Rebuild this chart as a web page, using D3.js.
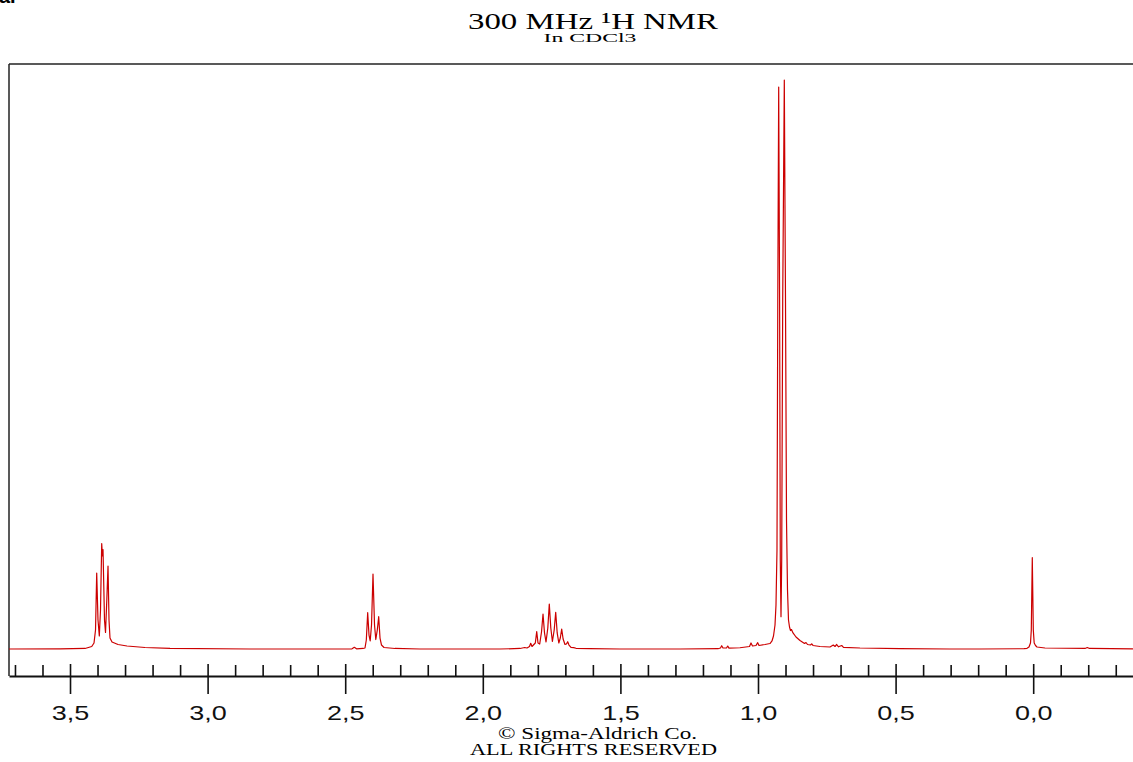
<!DOCTYPE html>
<html>
<head>
<meta charset="utf-8">
<script src="https://cdn.jsdelivr.net/npm/d3@7"></script>
<style>
  html, body { margin: 0; padding: 0; background: #fff; }
  svg { display: block; }
</style>
</head>
<body>
<svg id="chart" width="1133" height="762"></svg>
<script>
// Chemical shift (ppm) of each trace vertex, read left to right
const shiftPpm = [
  3.7217, 3.5363, 3.4455, 3.4211, 3.4128, 3.4073, 3.4030, 3.3983, 3.3935, 3.3892,
  3.3848, 3.3823, 3.3801, 3.3747, 3.3710, 3.3663, 3.3619, 3.3583, 3.3547, 3.3474,
  3.3256, 3.2929, 3.2275, 3.1366, 2.8459,
  2.5189, 2.4753, 2.4669, 2.4589, 2.4353, 2.4281, 2.4233, 2.4183, 2.4135, 2.4092,
  2.4044, 2.3990, 2.3935, 2.3888, 2.3834, 2.3783, 2.3735, 2.3681, 2.3590, 2.3191, 2.2282,
  1.9375, 1.8648, 1.8477, 1.8394, 1.8303, 1.8259, 1.8212, 1.8092, 1.8041, 1.7994,
  1.7932, 1.7867, 1.7812, 1.7758, 1.7703, 1.7638, 1.7584, 1.7529, 1.7471, 1.7406,
  1.7351, 1.7297, 1.7238, 1.7184, 1.7133, 1.7082, 1.7013, 1.6962, 1.6915, 1.6868,
  1.6795, 1.6697, 1.6613, 1.6105, 1.5015,
  1.2834, 1.1453, 1.1363, 1.1319, 1.1272, 1.1145, 1.1101, 1.1054, 1.0654, 1.0309,
  1.0254, 1.0200, 1.0073, 1.0011, 0.9964, 0.9746, 0.9564, 0.9491, 0.9437, 0.9382,
  0.9346, 0.9310, 0.9281, 0.9248, 0.9215, 0.9190, 0.9164, 0.9139, 0.9102, 0.9044,
  0.9001, 0.8964, 0.8928, 0.8892, 0.8855, 0.8819, 0.8783, 0.8728, 0.8619, 0.8474,
  0.8310, 0.8256, 0.8201, 0.8092, 0.8049, 0.8001, 0.7747, 0.7384, 0.7264, 0.7202,
  0.7140, 0.7075, 0.6959, 0.6893, 0.6294, 0.4840, 0.3023,
  0.1933, 0.0334, 0.0225, 0.0153, 0.0098, 0.0069, 0.0033, -0.0004, -0.0036, -0.0084,
  -0.0138, -0.0429, -0.1882, -0.1966, -0.2046, -0.3626
];

// Signal intensity at each vertex (arbitrary units, 100 = top of frame)
const intensity = [
  0.00, 0.03, 0.09, 0.43, 1.03, 3.25, 12.99, 4.96, 2.22, 6.67,
  18.03, 15.90, 17.01, 4.96, 2.82, 8.38, 14.19, 4.96, 1.88, 1.20,
  0.77, 0.51, 0.26, 0.09, 0.00,
  0.00, 0.03, 0.29, 0.03, 0.09, 0.17, 1.54, 6.21, 2.39, 1.37,
  4.10, 12.82, 4.10, 1.62, 3.25, 5.52, 1.88, 0.68, 0.26, 0.09, 0.00,
  0.00, 0.09, 0.26, 0.17, 0.43, 0.97, 0.43, 1.03, 2.96, 1.03,
  0.85, 2.91, 5.98, 2.74, 1.20, 3.59, 7.69, 3.59, 1.28, 3.25,
  6.27, 2.74, 1.03, 1.88, 3.42, 1.71, 0.77, 0.85, 1.25, 0.68,
  0.26, 0.24, 0.12, 0.05, 0.00,
  0.00, 0.05, 0.17, 0.56, 0.17, 0.17, 0.51, 0.14, 0.21, 0.43,
  1.03, 0.51, 0.60, 1.08, 0.60, 0.77, 0.94, 1.37, 2.22, 4.10,
  7.52, 16.92, 59.66, 96.07, 59.66, 15.21, 5.52, 15.21, 59.66, 97.26,
  59.66, 22.05, 10.09, 4.96, 3.76, 3.16, 3.33, 2.74, 2.05, 1.45,
  0.94, 1.11, 0.77, 0.68, 0.89, 0.60, 0.43, 0.34, 0.68, 0.43,
  0.77, 0.38, 0.60, 0.29, 0.17, 0.05, 0.00,
  0.00, 0.05, 0.12, 0.34, 1.03, 3.25, 15.61, 3.25, 1.03, 0.60,
  0.34, 0.17, 0.09, 0.26, 0.09, 0.03
];

// Axis ticks: labelled every 0.5 ppm, minor marks every 0.1 ppm
const majorTicks = [3.5, 3.0, 2.5, 2.0, 1.5, 1.0, 0.5, 0.0];
const minorTicks = [3.7, 3.6, 3.4, 3.3, 3.2, 3.1, 2.9, 2.8, 2.7, 2.6, 2.4, 2.3, 2.2, 2.1,
  1.9, 1.8, 1.7, 1.6, 1.4, 1.3, 1.2, 1.1, 0.9, 0.8, 0.7, 0.6, 0.4, 0.3, 0.2, 0.1,
  -0.1, -0.2, -0.3];

const titleText = "300 MHz \u00B9H NMR";
const solventText = "In CDCl3";
const creditLines = ["\u00A9 Sigma-Aldrich Co.", "ALL RIGHTS RESERVED"];

const svg = d3.select("#chart");

const plotLeft = 9, plotTop = 64, plotRight = 1133.2, axisY = 676, baseY = 649;

// ppm axis runs right-to-left as usual for NMR
const x = d3.scaleLinear().domain([3.7217, -0.3634]).range([plotLeft, plotRight]);
const y = d3.scaleLinear().domain([0, 100]).range([baseY, plotTop]);

const locale = d3.formatLocale({ decimal: ",", thousands: ".", grouping: [3], currency: ["", ""] });
const fmt = locale.format(".1f");

// Frame: left and top edges
svg.append("line")
  .attr("x1", plotLeft).attr("x2", plotLeft).attr("y1", plotTop).attr("y2", axisY)
  .attr("stroke", "#222").attr("stroke-width", 1.5);
svg.append("line")
  .attr("x1", plotLeft).attr("x2", 1140).attr("y1", plotTop).attr("y2", plotTop)
  .attr("stroke", "#222").attr("stroke-width", 1.5);

// Spectrum trace
const pts = shiftPpm.map((p, i) => [p, intensity[i]]);
svg.append("path")
  .datum(pts)
  .attr("fill", "none")
  .attr("stroke", "#cc0000")
  .attr("stroke-width", 1.2)
  .attr("stroke-linejoin", "round")
  .attr("d", d3.line().x(d => x(d[0])).y(d => y(d[1])));

// Minor ticks point up into the plot
const minorAxis = d3.axisBottom(x)
  .tickValues(minorTicks)
  .tickSizeInner(-11)
  .tickSizeOuter(0)
  .tickFormat("");
const gMinor = svg.append("g").attr("transform", `translate(0,${axisY})`).call(minorAxis);
gMinor.select(".domain").attr("stroke", "#111").attr("stroke-width", 2);
gMinor.selectAll(".tick line").attr("stroke", "#111").attr("stroke-width", 1.6);

// Major ticks cross the axis line and carry the labels
const majorAxis = d3.axisBottom(x)
  .tickValues(majorTicks)
  .tickSizeInner(18)
  .tickSizeOuter(0)
  .tickFormat(fmt);
const gMajor = svg.append("g").attr("transform", `translate(0,${axisY})`).call(majorAxis);
gMajor.select(".domain").remove();
gMajor.selectAll(".tick line")
  .attr("y1", -12).attr("y2", 18)
  .attr("stroke", "#111").attr("stroke-width", 1.6);
gMajor.selectAll(".tick text")
  .attr("y", 44).attr("dy", null)
  .attr("fill", "#111")
  .style("font-family", "'Liberation Sans', Arial, sans-serif")
  .style("font-size", "21px")
  .attr("textLength", 37.5)
  .attr("lengthAdjust", "spacingAndGlyphs");

// Titles
const serif = "'Liberation Serif', 'Times New Roman', serif";
svg.append("text")
  .attr("x", 468).attr("y", 29)
  .attr("textLength", 250).attr("lengthAdjust", "spacingAndGlyphs")
  .style("font-family", serif).style("font-size", "22.5px").attr("fill", "#000")
  .text(titleText);
svg.append("text")
  .attr("x", 543.5).attr("y", 42)
  .attr("textLength", 93).attr("lengthAdjust", "spacingAndGlyphs")
  .style("font-family", serif).style("font-size", "13.5px").attr("fill", "#000")
  .text(solventText);

// Credit lines beneath the axis
svg.append("text")
  .attr("x", 498).attr("y", 738.5)
  .attr("textLength", 199).attr("lengthAdjust", "spacingAndGlyphs")
  .style("font-family", serif).style("font-size", "16px").attr("fill", "#000")
  .text(creditLines[0]);
svg.append("text")
  .attr("x", 470).attr("y", 754.5)
  .attr("textLength", 247).attr("lengthAdjust", "spacingAndGlyphs")
  .style("font-family", serif).style("font-size", "16.5px").attr("fill", "#000")
  .text(creditLines[1]);

// Panel letter, mostly cut off at the top edge
svg.append("text")
  .attr("x", -1).attr("y", 3)
  .style("font-family", "'Liberation Sans', Arial, sans-serif")
  .style("font-size", "20px").style("font-weight", "bold").attr("fill", "#000")
  .text("a.");
</script>
</body>
</html>
